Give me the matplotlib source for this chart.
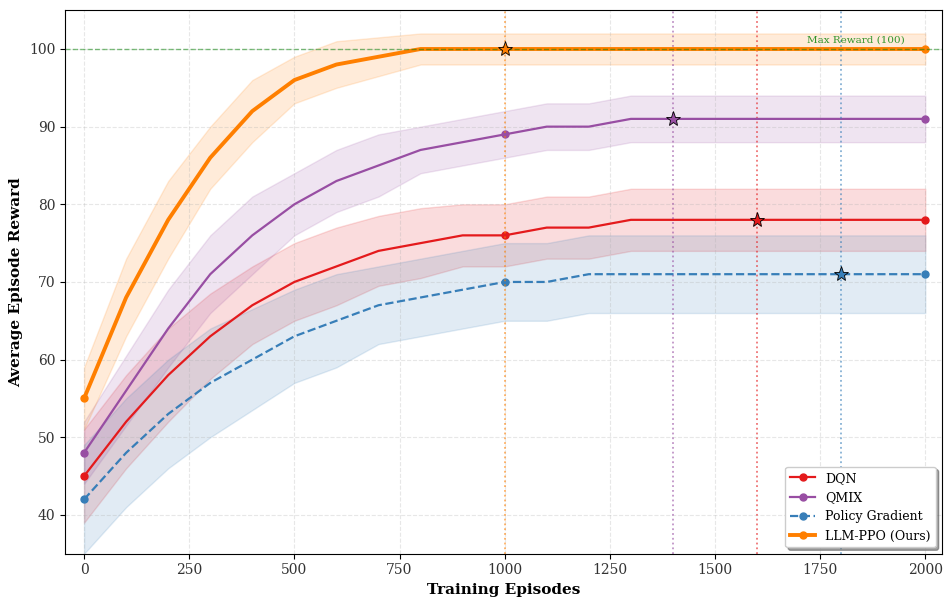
import matplotlib.pyplot as plt
import numpy as np

plt.rcParams['font.family'] = 'DejaVu Serif'

# training episodes
episodes = np.arange(0, 2001, 100)

dqn = [45, 52, 58, 63, 67, 70, 72, 74, 75, 76, 76, 77, 77, 78, 78, 78, 78, 78, 78, 78, 78]
dqn_std = [6, 6, 6, 5.5, 5, 5, 5, 4.5, 4.5, 4, 4, 4, 4, 4, 4, 4, 4, 4, 4, 4, 4]

qmix = [48, 56, 64, 71, 76, 80, 83, 85, 87, 88, 89, 90, 90, 91, 91, 91, 91, 91, 91, 91, 91]
qmix_std = [4, 4.5, 5, 5, 5, 4, 4, 4, 3, 3, 3, 3, 3, 3, 3, 3, 3, 3, 3, 3, 3]

pg = [42, 48, 53, 57, 60, 63, 65, 67, 68, 69, 70, 70, 71, 71, 71, 71, 71, 71, 71, 71, 71]
pg_std = [7, 7, 7, 7, 6.5, 6, 6, 5, 5, 5, 5, 5, 5, 5, 5, 5, 5, 5, 5, 5, 5]

ppo = [55, 68, 78, 86, 92, 96, 98, 99, 100, 100, 100, 100, 100, 100, 100, 100, 100, 100, 100, 100, 100]
ppo_std = [4, 5, 5, 4, 4, 3, 3, 2.5, 2, 2, 2, 2, 2, 2, 2, 2, 2, 2, 2, 2, 2]

# convergence episode for each method
conv = {'DQN': 1600, 'QMIX': 1400, 'Policy Gradient': 1800, 'LLM-PPO (Ours)': 1000}

series = [
    ('DQN', dqn, dqn_std, '#e41a1c', '-', 1.6),
    ('QMIX', qmix, qmix_std, '#984ea3', '-', 1.6),
    ('Policy Gradient', pg, pg_std, '#377eb8', '--', 1.6),
    ('LLM-PPO (Ours)', ppo, ppo_std, '#ff7f00', '-', 2.8),
]

fig, ax = plt.subplots(figsize=(9.44, 5.98), dpi=100)

for name, mean, std, color, ls, lw in series:
    mean = np.array(mean, dtype=float)
    std = np.array(std, dtype=float)
    ax.plot(episodes, mean, color=color, linestyle=ls, linewidth=lw,
            marker='o', markersize=5, markevery=10, label=name)
    ax.fill_between(episodes, mean - std, mean + std, color=color, alpha=0.15)
    cx = conv[name]
    cy = mean[list(episodes).index(cx)]
    ax.axvline(cx, color=color, linestyle=':', linewidth=1.3, alpha=0.6)
    ax.plot(cx, cy, marker='*', markersize=11, color=color,
            markeredgecolor='black', markeredgewidth=0.6, zorder=5)

ax.axhline(100, color='green', linestyle='--', linewidth=1, alpha=0.5)
ax.text(1950, 100.6, 'Max Reward (100)', color='green', fontsize=7.5,
        ha='right', va='bottom', alpha=0.8)

ax.set_xlim(-45, 2040)
ax.set_ylim(35, 105)
ax.set_xlabel('Training Episodes', fontsize=11, fontweight='bold')
ax.set_ylabel('Average Episode Reward', fontsize=11, fontweight='bold')
ax.tick_params(labelcolor='#333333')
ax.grid(True, linestyle='--', alpha=0.3)
ax.legend(loc='lower right', fontsize=9, frameon=True, fancybox=True, shadow=True)

plt.subplots_adjust(left=0.069, right=0.998, top=0.983, bottom=0.074)
plt.savefig('out.png', dpi=100)
